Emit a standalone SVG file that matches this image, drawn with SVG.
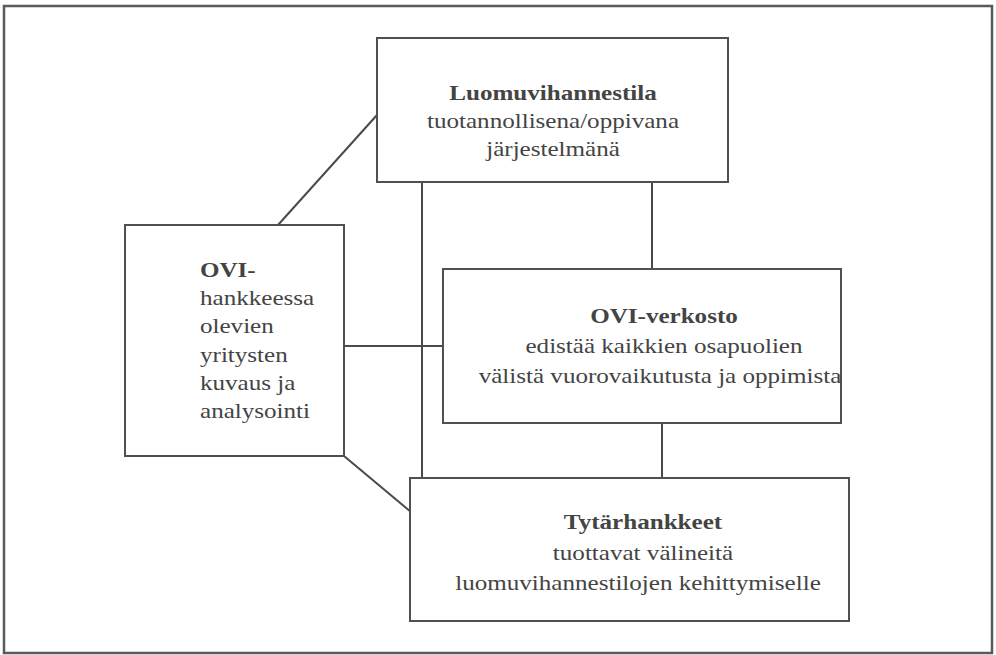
<svg xmlns="http://www.w3.org/2000/svg" width="996" height="655" viewBox="0 0 996 655">
<style>
.frame{fill:none;stroke:#5a5a5a;stroke-width:2.5}
.box{fill:#fff;stroke:#505050;stroke-width:2}
.con{stroke:#4a4a4a;stroke-width:2;fill:none}
.t{font-size:22px;fill:#444}
.b{font-weight:bold}
.c{text-anchor:middle}
</style>
<rect width="996" height="655" fill="#fff"/>
<rect class="frame" x="4" y="6" width="988" height="647"/>
<g id="connectors">
<line class="con" x1="377" y1="115" x2="278" y2="225"/>
<line class="con" x1="422" y1="182" x2="422" y2="478"/>
<line class="con" x1="652" y1="182" x2="652" y2="269"/>
<line class="con" x1="344" y1="346" x2="443" y2="346"/>
<line class="con" x1="662" y1="423" x2="662" y2="478"/>
<line class="con" x1="344" y1="456" x2="411" y2="512"/>
</g>
<g font-family="'Liberation Serif', 'Times New Roman', serif">
<g id="luomuvihannestila">
<rect class="box" x="377" y="38" width="351" height="144"/>
<text class="t c b" transform="translate(553,100) scale(1.14,1)">Luomuvihannestila</text>
<text class="t c" transform="translate(553,128) scale(1.14,1)">tuotannollisena/oppivana</text>
<text class="t c" transform="translate(553,156) scale(1.14,1)">järjestelmänä</text>
</g>
<g id="ovi-hanke">
<rect class="box" x="125" y="225" width="219" height="231"/>
<text class="t b" transform="translate(200,277) scale(1.14,1)">OVI-</text>
<text class="t" transform="translate(200,305) scale(1.14,1)">hankkeessa</text>
<text class="t" transform="translate(200,333) scale(1.14,1)">olevien</text>
<text class="t" transform="translate(200,362) scale(1.14,1)">yritysten</text>
<text class="t" transform="translate(200,390) scale(1.14,1)">kuvaus ja</text>
<text class="t" transform="translate(200,418) scale(1.14,1)">analysointi</text>
</g>
<g id="ovi-verkosto">
<rect class="box" x="443" y="269" width="398" height="154"/>
<text class="t c b" transform="translate(664,323) scale(1.14,1)">OVI-verkosto</text>
<text class="t c" transform="translate(664,353) scale(1.14,1)">edistää kaikkien osapuolien</text>
<text class="t c" transform="translate(660,383) scale(1.14,1)">välistä vuorovaikutusta ja oppimista</text>
</g>
<g id="tytarhankkeet">
<rect class="box" x="410" y="478" width="439" height="143"/>
<text class="t c b" transform="translate(643,529) scale(1.14,1)">Tytärhankkeet</text>
<text class="t c" transform="translate(643,560) scale(1.14,1)">tuottavat välineitä</text>
<text class="t c" transform="translate(638,590) scale(1.14,1)">luomuvihannestilojen kehittymiselle</text>
</g>
</g>
</svg>
